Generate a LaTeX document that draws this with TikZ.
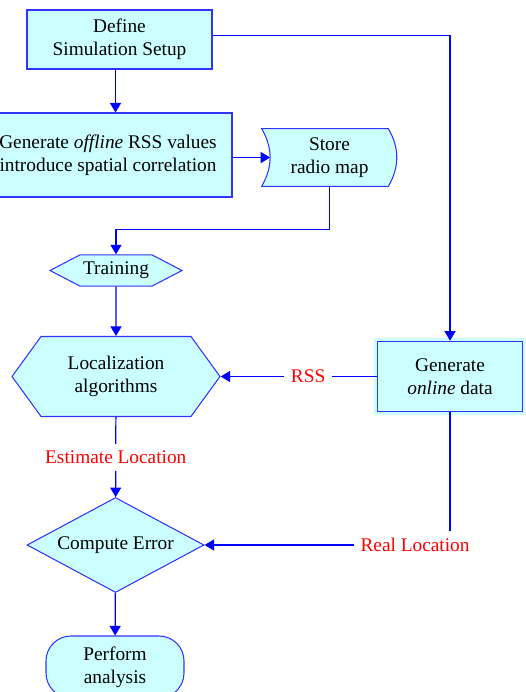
\documentclass[tikz,border=0pt]{standalone}
\usepackage{fontspec}
\setmainfont{Liberation Serif}
\usetikzlibrary{shapes.geometric,shapes.symbols,arrows.meta,positioning,calc,backgrounds}
\definecolor{boxfill}{HTML}{CCFFFF}
\definecolor{boxline}{HTML}{3333FF}
\tikzset{
  process/.style={draw=boxline,fill=boxfill,line width=0.6pt,align=center,inner sep=2pt},
  flow/.style={-{Triangle[length=1.9mm,width=2.2mm]},blue,line width=0.7pt},
  flowlabel/.style={fill=white,text=red,inner sep=4pt}
}

\begin{document}
\begin{tikzpicture}[
  font=\fontsize{11}{13}\selectfont,
  hexnode/.style={process,shape=signal,signal to=west and east,inner sep=1pt},
  storenode/.style={align=center,minimum width=2.7cm,minimum height=1.14cm,inner sep=0pt}
]
  \useasboundingbox (0,0) rectangle (10.5,-13.84);
  \clip (0,0) rectangle (10.5,-13.84);
  \node[process,minimum width=3.7cm,minimum height=1.18cm] (setup) at (2.39,-0.79) {Define\\Simulation Setup};
  \node[process,minimum width=4.96cm,minimum height=1.68cm] (offline) at (2.16,-3.10) {Generate \textit{offline} RSS values\\introduce spatial correlation};
  \node[storenode] (store) at (6.59,-3.15) {Store\\radio map};
  \node[hexnode,signal pointer angle=55,minimum width=2.64cm,minimum height=0.626cm] (training) at (2.32,-5.41) {Training};
  \node[hexnode,signal pointer angle=108,minimum width=4.16cm,minimum height=1.6cm] (localization) at (2.32,-7.53) {Localization\\algorithms};
  \node[process,preaction={draw=boxfill,line width=4pt},minimum width=2.91cm,minimum height=1.41cm] (online) at (9.0,-7.53) {Generate\\\textit{online} data};
  \node[process,diamond,aspect=1.86,minimum width=3.54cm,minimum height=1.9cm,inner sep=1pt] (error) at (2.31,-10.9) {Compute Error};
  \node[process,rounded corners=0.5cm,minimum width=2.76cm,minimum height=1.24cm] (analysis) at (2.3,-13.34) {Perform\\analysis};
  % stored data outline
  \begin{scope}[on background layer]
    \draw[draw=boxline,fill=boxfill,line width=0.6pt] (store.north west) -- ([xshift=-0.18cm]store.north east)
      to[bend left=30] ([xshift=-0.18cm]store.south east) -- (store.south west)
      to[bend right=30] (store.north west) -- cycle;
  \end{scope}
  \draw[flow] (setup.south -| error) -- (offline.north -| error);
  \draw[flow] (offline.east |- store.west) -- ([xshift=0.17cm]store.west);
  \draw[flow] (store.south) -- ++(0,-0.86) -| (training.north);
  \draw[flow] (training) -- (localization);
  \draw[flow] ([yshift=0.08cm]setup.east) -| (online.north);
  \draw[flow] (online.west) -- node[flowlabel,pos=0.44] {RSS} (localization.east);
  \draw[flow] (localization) -- node[flowlabel] {Estimate Location} (error);
  \draw[flow] (online.south) |- node[flowlabel,xshift=-0.7cm] {Real Location} (error.east);
  \draw[flow] (error) -- (analysis);
\end{tikzpicture}
\end{document}
